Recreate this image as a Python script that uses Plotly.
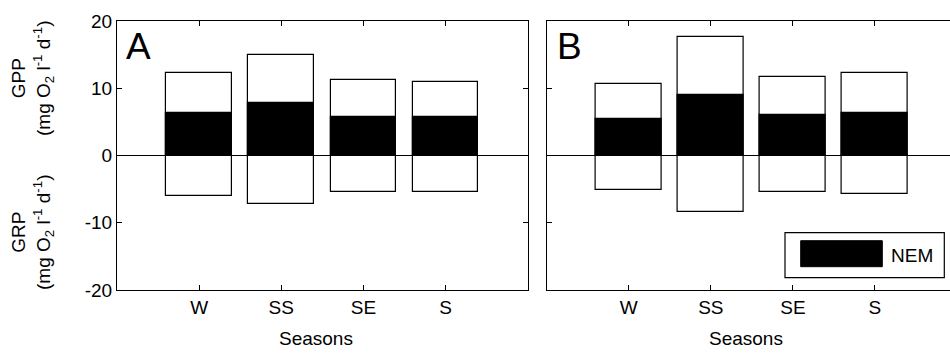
import plotly.graph_objects as go

# Seasonal metabolism per site: gross primary production (GPP),
# gross respiration (GRP, negative) and net ecosystem metabolism (NEM)
seasons = ["W", "SS", "SE", "S"]
season_pos = [1, 2, 3, 4]

gpp_a = [12.2, 14.9, 11.3, 11.0]
nem_a = [6.3, 7.8, 5.7, 5.7]
grp_a = [-6.0, -7.2, -5.45, -5.45]

gpp_b = [10.7, 17.6, 11.6, 12.2]
nem_b = [5.45, 9.0, 6.0, 6.3]
grp_b = [-5.1, -8.4, -5.45, -5.7]

y_ticks = [-20, -10, 0, 10, 20]
y_tick_labels = ["-20", "-10", "0", "10", "20"]

W, H = 950, 354
FONT = "Liberation Sans, Arial, sans-serif"
FS = 19


def px(x):
    return x / W


def py(y):
    return 1 - y / H


fig = go.Figure()


def add_panel(gpp, grp, nem, xa, ya):
    common = dict(x=season_pos, width=0.8, xaxis=xa, yaxis=ya, showlegend=False,
                  hoverinfo="skip")
    fig.add_trace(go.Bar(y=gpp, marker=dict(color="white", line=dict(color="black", width=1.2)),
                         name="GPP", **common))
    fig.add_trace(go.Bar(y=grp, marker=dict(color="white", line=dict(color="black", width=1.2)),
                         name="GRP", **common))
    fig.add_trace(go.Bar(y=nem, marker=dict(color="black", line=dict(color="black", width=1.2)),
                         name="NEM", **common))


add_panel(gpp_a, grp_a, nem_a, "x", "y")
add_panel(gpp_b, grp_b, nem_b, "x2", "y2")

# panel geometry in pixels
ax_left, ax_right = 117, 527.7
bx_left, bx_right = 546.7, 957.0
top, bottom = 21, 290
b_range_max = 5 * (W - bx_left) / (bx_right - bx_left)

axis_style = dict(showline=True, linecolor="black", linewidth=1.2, ticks="inside",
                  ticklen=5, tickcolor="black", tickwidth=1.2, showgrid=False,
                  tickfont=dict(family=FONT, size=FS, color="black"), automargin=False)

fig.update_layout(
    width=W, height=H, margin=dict(l=0, r=0, t=0, b=0),
    paper_bgcolor="white", plot_bgcolor="white",
    barmode="overlay", bargap=0,
    xaxis=dict(domain=[px(ax_left), px(ax_right)], range=[0, 5], tickvals=season_pos,
               ticktext=seasons, mirror="ticks", zeroline=False, **axis_style),
    yaxis=dict(domain=[py(bottom), py(top)], range=[-20, 20], tickvals=y_ticks,
               ticktext=y_tick_labels, mirror="ticks", zeroline=True,
               zerolinecolor="black", zerolinewidth=1.2, **axis_style),
    xaxis2=dict(domain=[px(bx_left), 1], range=[0, b_range_max], tickvals=season_pos,
                ticktext=seasons, mirror="ticks", zeroline=False, anchor="y2", **axis_style),
    yaxis2=dict(domain=[py(bottom), py(top)], range=[-20, 20], tickvals=y_ticks,
                showticklabels=False, mirror=False, zeroline=True, zerolinecolor="black",
                zerolinewidth=1.2, anchor="x2", **axis_style),
)

annotations = []
# panel letters
annotations.append(dict(text="A", x=px(124), y=py(46), xref="paper", yref="paper",
                        xanchor="left", yanchor="middle", showarrow=False,
                        font=dict(family=FONT, size=37, color="black")))
annotations.append(dict(text="B", x=px(555), y=py(46), xref="paper", yref="paper",
                        xanchor="left", yanchor="middle", showarrow=False,
                        font=dict(family=FONT, size=37, color="black")))
# x-axis titles
for cx in (316, 746):
    annotations.append(dict(text="Seasons", x=px(cx), y=py(338), xref="paper", yref="paper",
                            xanchor="center", yanchor="middle", showarrow=False,
                            font=dict(family=FONT, size=FS, color="black")))
# y-axis titles
unit = "(mg O<sub>2</sub> l<sup>-1</sup> d<sup>-1</sup>)"
annotations.append(dict(text="GPP<br>" + unit, x=px(33), y=py(78), xref="paper", yref="paper",
                        xanchor="center", yanchor="middle", textangle=-90, showarrow=False,
                        font=dict(family=FONT, size=FS, color="black")))
annotations.append(dict(text="GRP<br>" + unit, x=px(33), y=py(232), xref="paper", yref="paper",
                        xanchor="center", yanchor="middle", textangle=-90, showarrow=False,
                        font=dict(family=FONT, size=FS, color="black")))
# legend label
annotations.append(dict(text="NEM", x=px(889), y=py(255), xref="paper", yref="paper",
                        xanchor="left", yanchor="middle", showarrow=False,
                        font=dict(family=FONT, size=FS, color="black")))
fig.update_layout(annotations=annotations)

# legend frame and swatch
fig.add_shape(type="rect", xref="paper", yref="paper", x0=px(785), x1=px(944.3),
              y0=py(277.7), y1=py(232.7), line=dict(color="black", width=1.2),
              fillcolor="white", layer="above")
fig.add_shape(type="rect", xref="paper", yref="paper", x0=px(800.7), x1=px(882.3),
              y0=py(266.7), y1=py(240.7), line=dict(color="black", width=1),
              fillcolor="black", layer="above")

fig.write_html("out.html")
